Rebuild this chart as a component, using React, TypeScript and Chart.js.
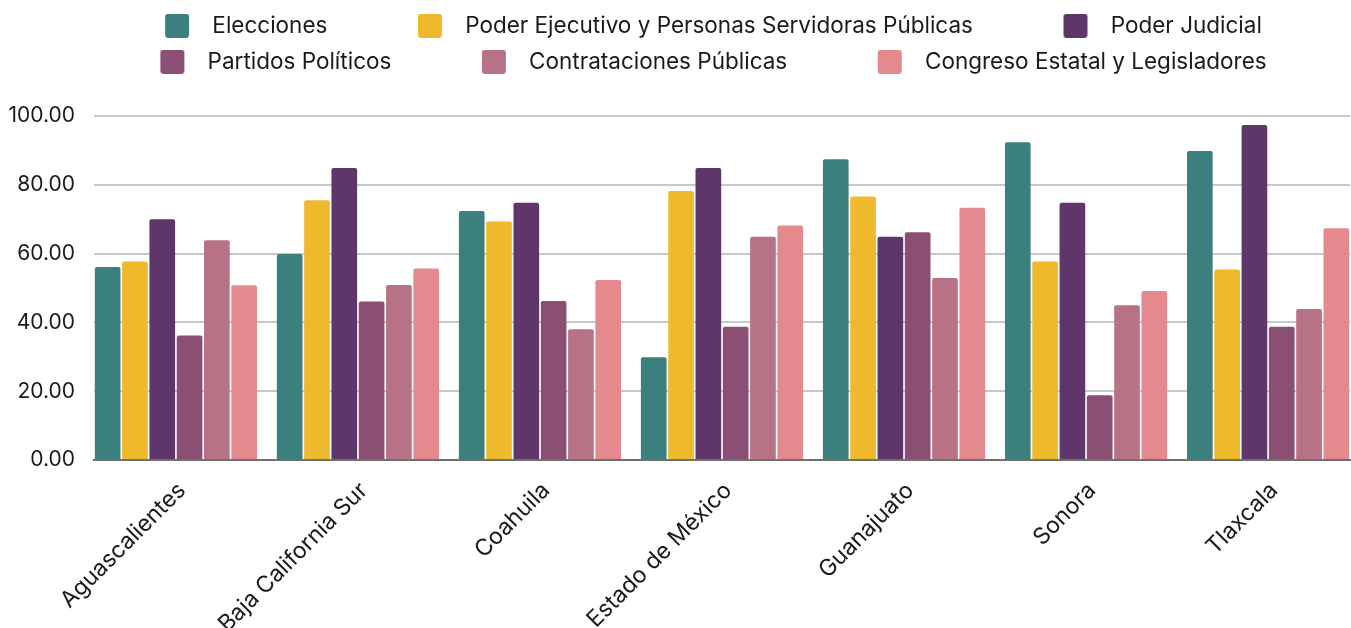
import React, { useEffect, useRef } from 'react';
import { Chart, registerables } from 'chart.js';

Chart.register(...registerables);

const categories = [
  'Aguascalientes',
  'Baja California Sur',
  'Coahuila',
  'Estado de México',
  'Guanajuato',
  'Sonora',
  'Tlaxcala',
];

const seriesNames = [
  'Elecciones',
  'Poder Ejecutivo y Personas Servidoras Públicas',
  'Poder Judicial',
  'Partidos Políticos',
  'Contrataciones Públicas',
  'Congreso Estatal y Legisladores',
];

const elecciones = [56.1, 59.9, 72.4, 29.9, 87.4, 92.4, 89.8];
const poderEjecutivo = [57.7, 75.5, 69.3, 78.2, 76.6, 57.7, 55.4];
const poderJudicial = [70.0, 84.9, 74.8, 84.9, 64.9, 74.8, 97.4];
const partidosPoliticos = [36.2, 46.1, 46.2, 38.7, 66.2, 18.8, 38.7];
const contratacionesPublicas = [63.9, 50.9, 38.0, 64.9, 52.9, 45.0, 43.9];
const congresoEstatal = [50.8, 55.7, 52.3, 68.2, 73.3, 49.1, 67.4];

const yTickValues = [0, 20, 40, 60, 80, 100];

const seriesColors = ['#3b7f7e', '#eeb92d', '#5e366a', '#8c4f74', '#b77286', '#e48a8e'];

const FONT = 'Inter, "Noto Sans", sans-serif';

function makeMarker(color: string): HTMLCanvasElement {
  const c = document.createElement('canvas');
  c.width = 113;
  c.height = 24;
  const ctx = c.getContext('2d')!;
  ctx.fillStyle = color;
  ctx.beginPath();
  if ((ctx as any).roundRect) {
    (ctx as any).roundRect(77, 0, 24, 24, 3);
  } else {
    ctx.rect(77, 0, 24, 24);
  }
  ctx.fill();
  return c;
}

const legendSpace = {
  id: 'legendSpace',
  beforeInit(chart: any) {
    const lg = chart.legend;
    if (!lg) return;
    const fit = lg.fit;
    lg.fit = function () {
      fit.call(this);
      this.height = 115;
    };
  },
};

export default function App() {
  const ref = useRef<HTMLCanvasElement | null>(null);

  useEffect(() => {
    if (!ref.current) return;
    const allSeries = [
      elecciones,
      poderEjecutivo,
      poderJudicial,
      partidosPoliticos,
      contratacionesPublicas,
      congresoEstatal,
    ];
    const datasets = allSeries.map((vals, si) => ({
      label: seriesNames[si],
      data: vals.map((v, i) => ({ x: i, y: v })),
      backgroundColor: seriesColors[si],
      borderWidth: 0,
      borderRadius: 2,
      pointStyle: makeMarker(seriesColors[si]),
      categoryPercentage: 0.9,
      barPercentage: 0.94,
    }));

    const chart = new Chart(ref.current, {
      type: 'bar',
      data: { datasets: datasets as any },
      plugins: [legendSpace],
      options: {
        responsive: false,
        animation: false,
        devicePixelRatio: 1,
        layout: { padding: { left: 0, right: 1, top: 1, bottom: 0 } },
        plugins: {
          tooltip: { enabled: false },
          legend: {
            display: true,
            position: 'top',
            labels: {
              usePointStyle: true,
              pointStyleWidth: 113,
              padding: 13.5,
              color: '#1a1a1a',
              font: { family: FONT, size: 22.5 },
            },
          },
        },
        scales: {
          x: {
            type: 'linear',
            min: -0.45,
            max: 6.45,
            offset: false,
            afterBuildTicks: (s: any) => {
              s.ticks = categories.map((_, i) => ({ value: i }));
            },
            afterFit: (s: any) => {
              s.height = 168;
            },
            ticks: {
              autoSkip: false,
              minRotation: 45,
              maxRotation: 45,
              padding: 17,
              labelOffset: 6,
              color: '#1a1a1a',
              font: { family: FONT, size: 23 },
              callback: (v: any) => categories[Math.round(Number(v))] ?? '',
            },
            grid: { display: false, drawTicks: false, offset: false },
            border: { display: true, color: '#707070', width: 2 },
          },
          y: {
            min: 0,
            max: 100,
            afterBuildTicks: (s: any) => {
              s.ticks = yTickValues.map((v) => ({ value: v }));
            },
            afterFit: (s: any) => {
              s.width = 94;
            },
            ticks: {
              padding: 19,
              color: '#1a1a1a',
              font: { family: FONT, size: 21 },
              callback: (v: any) => Number(v).toFixed(2),
            },
            grid: {
              drawTicks: false,
              lineWidth: 2,
              color: (ctx: any) => (ctx.tick && ctx.tick.value === 0 ? 'rgba(0,0,0,0)' : '#c8c8c8'),
            },
            border: { display: false },
          },
        },
      },
    });
    return () => chart.destroy();
  }, []);

  return (
    <div style={{ position: 'absolute', left: 0, top: 0, width: 1351, height: 628, overflow: 'hidden', background: '#ffffff' }}>
      <canvas ref={ref} width={1351} height={628} style={{ display: 'block', width: 1351, height: 628 }} />
    </div>
  );
}
